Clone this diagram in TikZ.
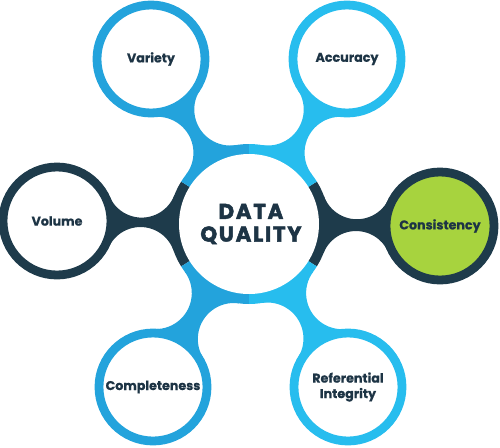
\documentclass[tikz,border=0pt]{standalone}
\usepackage{fontspec}
\setmainfont{Poppins}
\usetikzlibrary{backgrounds}
\definecolor{dqnavy}{HTML}{1E3B4B}
\definecolor{dqblue}{HTML}{23A3DC}
\definecolor{dqlight}{HTML}{27BDEE}
\definecolor{dqgreen}{HTML}{A7D33E}
\definecolor{dqtext}{HTML}{1D3445}
% neck between two circles: x1 y1 r1 x2 y2 r2 rf colour (pixel units, y down)
\newcommand\DQneck[8]{%
 \pgfmathsetmacro\DQdx{(#4-#1)/10}%
 \pgfmathsetmacro\DQdy{(#2-#5)/10}%
 \pgfmathsetmacro\DQd{sqrt(\DQdx*\DQdx+\DQdy*\DQdy)}%
 \pgfmathsetmacro\DQang{atan2(\DQdy,\DQdx)}%
 \pgfmathsetmacro\DQra{(#3+#7)/10}%
 \pgfmathsetmacro\DQrb{(#6+#7)/10}%
 \pgfmathsetmacro\DQxo{(\DQd*\DQd+\DQra*\DQra-\DQrb*\DQrb)/(2*\DQd)}%
 \pgfmathsetmacro\DQyo{sqrt(\DQra*\DQra-\DQxo*\DQxo)}%
 \pgfmathsetmacro\DQka{#3/10/\DQra}%
 \pgfmathsetmacro\DQkb{#6/10/\DQrb}%
 \pgfmathsetmacro\DQtax{\DQka*\DQxo}%
 \pgfmathsetmacro\DQtay{\DQka*\DQyo}%
 \pgfmathsetmacro\DQtbx{\DQd+\DQkb*(\DQxo-\DQd)}%
 \pgfmathsetmacro\DQtby{0-\DQkb*\DQyo}%
 \pgfmathsetmacro\DQaa{atan2(0-\DQyo,0-\DQxo)}%
 \pgfmathsetmacro\DQab{atan2(0-\DQyo,\DQd-\DQxo)}%
 \pgfmathsetmacro\DQnb{0-(\DQab)}%
 \pgfmathsetmacro\DQdel{\DQab-(\DQaa)}%
 \pgfmathsetmacro\DQrf{#7/10}%
 \fill[#8, shift={(#1,-#2)}, rotate=\DQang, x=7.5pt, y=7.5pt]
   (0,0) -- (\DQtax,\DQtay) arc[start angle=\DQaa, delta angle=\DQdel, radius=\DQrf]
   -- (\DQd,0) -- (\DQtbx,\DQtby) arc[start angle=\DQnb, delta angle=\DQdel, radius=\DQrf] -- cycle;%
}
\tikzset{
 sat/.style={circle, fill=white, line width=6.6pt, minimum size=81pt, inner sep=0pt,
   text=dqtext, font=\bfseries\fontsize{9.5}{11.6}\selectfont\addfontfeatures{FakeBold=0.6}, align=center},
 hub/.style={inner sep=0pt,
   text=dqtext, font=\bfseries\fontsize{16}{17}\selectfont\addfontfeatures{FakeBold=2.2,LetterSpace=8}, align=center},
}
\begin{document}
\begin{tikzpicture}[x=0.75pt, y=0.75pt]
\useasboundingbox (0,0) rectangle (500,-447);
\coordinate (hubc) at (249,-224);
\node[hub] (dq) at (251,-224) {DATA\\QUALITY};
\node[sat, draw=dqblue] (variety) at (151,-59) {Variety};
\node[sat, draw=dqlight] (accuracy) at (347,-59) {Accuracy};
\node[sat, draw=dqnavy] (volume) at (57,-221) {Volume};
\node[sat, draw=dqnavy, fill=dqgreen] (consistency) at (440,-226) {Consistency};
\node[sat, draw=dqblue] (completeness) at (153,-387) {Completeness};
\node[sat, draw=dqlight] (referential) at (348,-387) {Referential\\Integrity};
\begin{pgfonlayer}{background}
 \DQneck{151}{59}{58}{249}{224}{80}{36}{dqblue}
 \DQneck{347}{59}{58}{249}{224}{80}{36}{dqlight}
 \DQneck{57}{221}{58}{249}{224}{80}{35}{dqnavy}
 \DQneck{440}{226}{58}{249}{224}{80}{35}{dqnavy}
 \DQneck{153}{387}{58}{249}{224}{80}{36}{dqblue}
 \DQneck{348}{387}{58}{249}{224}{80}{36}{dqlight}
 \fill[dqnavy] (hubc) -- ++(148:80) arc[start angle=148, end angle=212, radius=80] -- cycle;
 \fill[dqnavy] (hubc) -- ++(-32:80) arc[start angle=-32, end angle=32, radius=80] -- cycle;
 \fill[dqblue] (hubc) -- ++(90:80) arc[start angle=90, end angle=148, radius=80] -- cycle;
 \fill[dqblue] (hubc) -- ++(212:80) arc[start angle=212, end angle=270, radius=80] -- cycle;
 \fill[dqlight] (hubc) -- ++(32:80) arc[start angle=32, end angle=90, radius=80] -- cycle;
 \fill[dqlight] (hubc) -- ++(270:80) arc[start angle=270, end angle=328, radius=80] -- cycle;
 \fill[white] (hubc) circle[radius=70];
\end{pgfonlayer}
\end{tikzpicture}
\end{document}
